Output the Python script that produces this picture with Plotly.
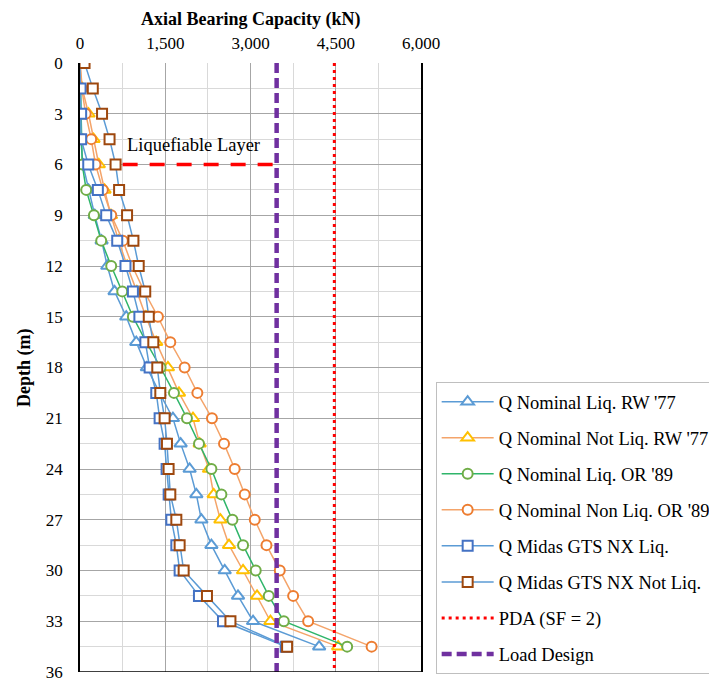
import plotly.graph_objects as go

depth = [0, 1.5, 3, 4.5, 6, 7.5, 9, 10.5, 12, 13.5, 15, 16.5, 18, 19.5, 21, 22.5,
         24, 25.5, 27, 28.5, 30, 31.5, 33, 34.5]

q_liq_rw77 = [0, 5, 10, 15, 50, 150, 260, 380, 480, 608, 814, 990, 1177, 1400, 1635, 1771,
              1929, 2047, 2136, 2312, 2546, 2780, 3045, 4208]
q_notliq_rw77 = [0, 40, 150, 238, 331, 432, 545, 680, 830, 1000, 1160, 1340, 1547, 1741, 1988, 2106,
                 2270, 2352, 2470, 2622, 2869, 3115, 3351, 4543]
q_liq_or89 = [0, 10, 25, 30, 39, 109, 245, 373, 549, 743, 931, 1166, 1418, 1653, 1882, 2094,
              2312, 2488, 2682, 2869, 3092, 3321, 3586, 4701]
q_nonliq_or89 = [0, 30, 100, 197, 273, 402, 550, 754, 920, 1130, 1371, 1589, 1841, 2065, 2322, 2534,
                 2722, 2898, 3075, 3281, 3515, 3750, 4014, 5131]
q_midas_liq = [0, 10, 20, 20, 145, 314, 461, 655, 800, 931, 1045, 1150, 1225, 1342, 1401, 1489,
               1524, 1560, 1607, 1695, 1753, 2093, 2516, 3620]
q_midas_notliq = [80, 225, 388, 520, 626, 688, 828, 940, 1033, 1148, 1210, 1290, 1360, 1413, 1489, 1530,
                  1559, 1589, 1695, 1753, 1824, 2234, 2647, 3644]

pda_value = 4475
load_design = 3460
liq_layer_depth = 6
liq_layer_x = [750, 3460]
liq_label_x = 2000
depth_range = [0, 36]

x_ticks = [0, 1500, 3000, 4500, 6000]
y_ticks = list(range(0, 37, 3))

FONT = "Liberation Serif, Times New Roman, serif"

series = [
    ("Q Nominal Liq. RW '77", q_liq_rw77, "#5B9BD5", "triangle-up", "#5B9BD5", 11),
    ("Q Nominal Not Liq. RW '77", q_notliq_rw77, "#F4A46A", "triangle-up", "#FFC000", 11),
    ("Q Nominal Liq. OR '89", q_liq_or89, "#2FB56A", "circle", "#70AD47", 10),
    ("Q Nominal Non Liq. OR '89", q_nonliq_or89, "#F4A46A", "circle", "#ED7D31", 10),
    ("Q Midas GTS NX Liq.", q_midas_liq, "#5B9BD5", "square", "#4472C4", 10),
    ("Q Midas GTS NX Not Liq.", q_midas_notliq, "#5B9BD5", "square", "#9E480E", 10),
]

fig = go.Figure()
for i, (name, vals, lc, sym, mc, ms) in enumerate(series):
    fig.add_trace(go.Scatter(
        x=vals, y=depth, name=name, mode="lines+markers",
        legendgroup=f"g{i}",
        line=dict(color=lc, width=1.5),
        marker=dict(symbol=sym, size=ms, color="white", line=dict(color=mc, width=2)),
    ))

fig.add_trace(go.Scatter(
    x=[pda_value, pda_value], y=depth_range, name="PDA (SF = 2)", mode="lines",
    legendgroup="g6", line=dict(color="#FF0000", width=3, dash="3px,4px")))
fig.add_trace(go.Scatter(
    x=[load_design, load_design], y=depth_range, name="Load Design", mode="lines",
    legendgroup="g7", line=dict(color="#7030A0", width=4.5, dash="10px,5px")))
fig.add_trace(go.Scatter(
    x=liq_layer_x, y=[liq_layer_depth, liq_layer_depth], mode="lines", showlegend=False,
    line=dict(color="#FF0000", width=3.5, dash="15px,12px")))

fig.add_annotation(x=liq_label_x, y=liq_layer_depth, xref="x", yref="y",
                   text="Liquefiable Layer", showarrow=False, yshift=20,
                   font=dict(family=FONT, size=18.5, color="black"))

# bottom axis line
fig.add_shape(type="line", xref="paper", yref="y", x0=0, x1=1, y0=36, y1=36,
              line=dict(color="black", width=1.5))

fig.add_annotation(text="<b>Axial Bearing Capacity (kN)</b>", xref="paper", yref="paper",
                   x=0.5, y=1, yshift=56, showarrow=False,
                   font=dict(family=FONT, size=18, color="black"))
fig.add_annotation(text="<b>Depth (m)</b>", xref="paper", yref="paper",
                   x=0, y=0.5, xshift=-68, textangle=-90, showarrow=False,
                   font=dict(family=FONT, size=18, color="black"))

fig.update_xaxes(
    side="top", range=[0, 6000], tickvals=x_ticks, tickformat=",",
    showgrid=True, gridcolor="#A6A6A6", gridwidth=1.3,
    minor=dict(dtick=750, showgrid=True, gridcolor="#D9D9D9", gridwidth=1.3),
    zeroline=False, showline=False, ticks="", ticklabelstandoff=10,
    ticklabeloverflow="allow",
    tickfont=dict(family=FONT, size=17, color="black"),
)
fig.update_yaxes(
    range=[36, 0], tickvals=y_ticks,
    showgrid=True, gridcolor="#A6A6A6", gridwidth=1.3,
    minor=dict(dtick=1.5, showgrid=True, gridcolor="#D9D9D9", gridwidth=1.3),
    zeroline=False, showline=True, linecolor="black", linewidth=1.5, mirror=True,
    ticks="", ticklabelstandoff=12, ticklabeloverflow="allow",
    tickfont=dict(family=FONT, size=17, color="black"),
)

fig.update_layout(
    width=709, height=679,
    margin=dict(l=80, r=288, t=63, b=7, autoexpand=False),
    paper_bgcolor="white", plot_bgcolor="white",
    showlegend=True,
    legend=dict(
        x=1.043, y=0.476, xanchor="left", yanchor="top",
        bgcolor="white", bordercolor="#BFBFBF", borderwidth=1,
        font=dict(family=FONT, size=18.5, color="black"),
        tracegroupgap=9, itemwidth=52,
    ),
)

fig.write_html("out.html")
